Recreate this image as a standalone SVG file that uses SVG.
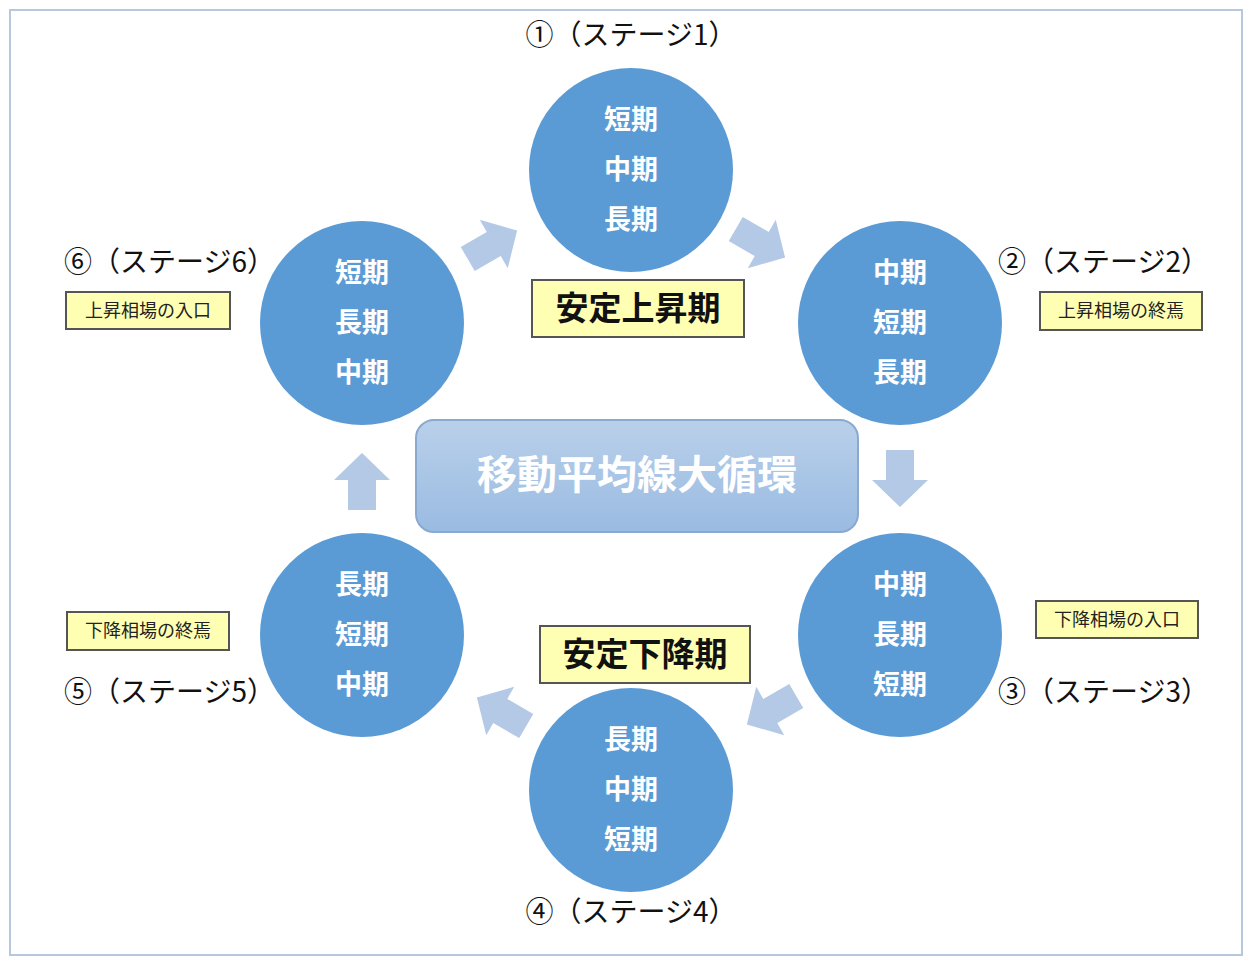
<svg xmlns="http://www.w3.org/2000/svg" width="1250" height="964" viewBox="0 0 1250 964">
<defs>
<linearGradient id="g" x1="0" y1="0" x2="0" y2="1"><stop offset="0" stop-color="#b9d0ea"/><stop offset="1" stop-color="#9abbe2"/></linearGradient>
<polygon id="arr" points="-28,-14 2,-14 2,-28 29,0 2,28 2,14 -28,14"/>
</defs>
<style>
text{font-family:"Noto Sans CJK JP","Noto Sans",sans-serif}
.c{fill:#5b9bd5}
.ct{fill:#fff;font-size:27px;font-weight:bold;text-anchor:middle}
.st{fill:#111;font-size:28px}
.y{fill:#ffffb3;stroke:#555;stroke-width:2}
.yl{fill:#111;font-size:33px;font-weight:bold;text-anchor:middle}
.ys{fill:#222;font-size:18px;text-anchor:middle}
.a{fill:#b4c9e6}
</style>
<rect x="0" y="0" width="1250" height="964" fill="#fff"/>
<rect x="10" y="10" width="1232" height="945" fill="none" stroke="#b8c8dc" stroke-width="2"/>
<g id="connectors">
<use href="#arr" class="a" transform="translate(492,245) rotate(-30)"/>
<use href="#arr" class="a" transform="translate(760,243) rotate(30)"/>
<use href="#arr" class="a" transform="translate(900,478) rotate(90)"/>
<use href="#arr" class="a" transform="translate(772,710) rotate(150)"/>
<use href="#arr" class="a" transform="translate(502,712) rotate(210)"/>
<use href="#arr" class="a" transform="translate(362,482) rotate(-90)"/>
</g>
<g id="center"><rect x="416" y="420" width="442" height="112" rx="18" fill="url(#g)" stroke="#8aa9cf" stroke-width="2"/><text x="637" y="489" fill="#fff" font-size="40" font-weight="bold" text-anchor="middle">移動平均線大循環</text></g>
<g id="s1"><circle class="c" cx="631" cy="170" r="102"/><text class="ct" x="631" y="129">短期</text><text class="ct" x="631" y="179">中期</text><text class="ct" x="631" y="229">長期</text><text class="st" x="631" y="45" text-anchor="middle">①（ステージ1）</text></g>
<g id="s2"><circle class="c" cx="900" cy="323" r="102"/><text class="ct" x="900" y="282">中期</text><text class="ct" x="900" y="332">短期</text><text class="ct" x="900" y="382">長期</text><text class="st" x="998" y="272">②（ステージ2）</text></g>
<g id="s3"><circle class="c" cx="900" cy="635" r="102"/><text class="ct" x="900" y="594">中期</text><text class="ct" x="900" y="644">長期</text><text class="ct" x="900" y="694">短期</text><text class="st" x="998" y="702">③（ステージ3）</text></g>
<g id="s4"><circle class="c" cx="631" cy="790" r="102"/><text class="ct" x="631" y="749">長期</text><text class="ct" x="631" y="799">中期</text><text class="ct" x="631" y="849">短期</text><text class="st" x="631" y="922" text-anchor="middle">④（ステージ4）</text></g>
<g id="s5"><circle class="c" cx="362" cy="635" r="102"/><text class="ct" x="362" y="594">長期</text><text class="ct" x="362" y="644">短期</text><text class="ct" x="362" y="694">中期</text><text class="st" x="64" y="702">⑤（ステージ5）</text></g>
<g id="s6"><circle class="c" cx="362" cy="323" r="102"/><text class="ct" x="362" y="282">短期</text><text class="ct" x="362" y="332">長期</text><text class="ct" x="362" y="382">中期</text><text class="st" x="64" y="272">⑥（ステージ6）</text></g>
<g id="up"><rect class="y" x="532" y="280" width="212" height="57"/><text class="yl" x="638" y="320">安定上昇期</text></g>
<g id="down"><rect class="y" x="540" y="626" width="210" height="57"/><text class="yl" x="645" y="666">安定下降期</text></g>
<g id="l6"><rect class="y" x="66" y="292" width="164" height="37"/><text class="ys" x="148" y="317">上昇相場の入口</text></g>
<g id="l2"><rect class="y" x="1040" y="292" width="162" height="38"/><text class="ys" x="1121" y="317">上昇相場の終焉</text></g>
<g id="l3"><rect class="y" x="1036" y="601" width="162" height="37"/><text class="ys" x="1117" y="626">下降相場の入口</text></g>
<g id="l5"><rect class="y" x="67" y="612" width="162" height="38"/><text class="ys" x="148" y="637">下降相場の終焉</text></g>
</svg>
